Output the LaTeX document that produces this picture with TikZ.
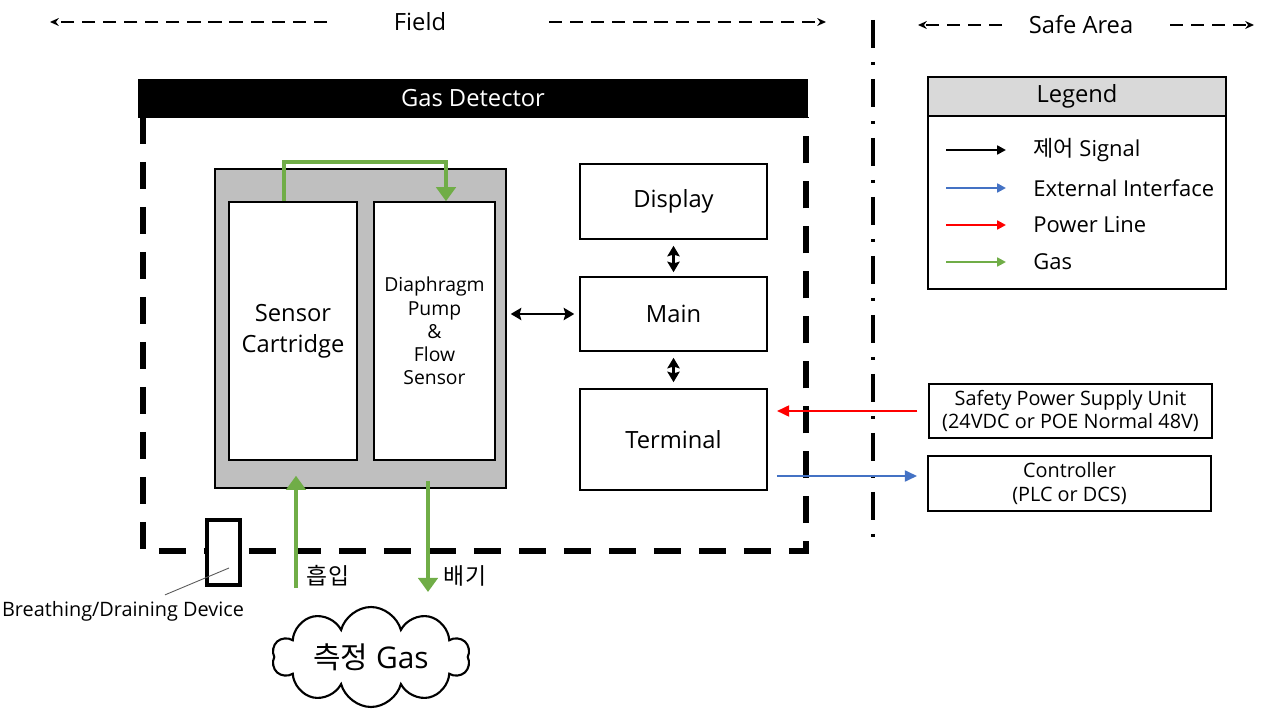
\documentclass[tikz,border=0pt]{standalone}
\usepackage{fontspec}
\setmainfont{Open Sans}
\newfontfamily\cjk{Noto Sans CJK KR}
\usetikzlibrary{arrows.meta,shapes.symbols}

\definecolor{gasgreen}{HTML}{70AD47}
\definecolor{extblue}{HTML}{4472C4}
\definecolor{pwrred}{HTML}{FF0000}
\definecolor{packgray}{HTML}{BFBFBF}
\definecolor{leggray}{HTML}{D9D9D9}

\tikzset{
  box/.style={draw,line width=0.9pt,fill=white,inner sep=0pt,align=center,
    font=\fontsize{13.5}{17.5}\selectfont},
  smallbox/.style={box,font=\fontsize{11}{13.2}\selectfont},
  zone/.style={line width=0.9pt,dash pattern=on 7.5pt off 4.5pt,-{Stealth[length=5pt,width=4.5pt]}},
  sig/.style={line width=1.3pt,{Stealth[length=6pt,width=7pt,inset=1pt]}-{Stealth[length=6pt,width=7pt,inset=1pt]}},
  gas/.style={draw=gasgreen,line width=2.8pt,-{Triangle[width=11pt,length=8pt]}},
  wire/.style={line width=1.7pt,-{Triangle[width=6pt,length=7pt]}},
  legarrow/.style={line width=1.4pt,-{Triangle[width=5pt,length=5pt]}},
  plain/.style={font=\fontsize{13.5}{17.5}\selectfont},
}

\begin{document}
\begin{tikzpicture}[x=0.02cm,y=-0.02cm]
\useasboundingbox (0,0) rectangle (1266,715);

% field / safe area
\node[plain] (field) at (420,22) {Field};
\coordinate (fl1) at (327,22); \coordinate (fl2) at (50,22);
\coordinate (fr1) at (549,22); \coordinate (fr2) at (826,22);
\draw[zone] (fl1) -- (fl2);
\draw[zone] (fr1) -- (fr2);
\node[plain] (safe) at (1081,25) {Safe Area};
\coordinate (sl1) at (1002,25); \coordinate (sl2) at (918,25);
\coordinate (sr1) at (1170,25); \coordinate (sr2) at (1254,25);
\draw[zone] (sl1) -- (sl2);
\draw[zone] (sr1) -- (sr2);
\draw[line width=2.3pt,dash pattern=on 0.56cm off 0.28cm on 0.06cm off 0.28cm] (873,20) -- (873,550);

% gas detector
\node[fill=black,text=white,minimum width=13.4cm,minimum height=0.78cm,inner sep=0pt,plain] (det) at (473,98.5) {Gas Detector};
\draw[line width=3.4pt,dash pattern=on 0.54cm off 0.36cm] (143,117) -- (143,551) -- (806,551) -- (806,117);

\node[draw,line width=0.9pt,fill=packgray,minimum width=5.82cm,minimum height=6.38cm] (pack) at (360.5,328.5) {};
\node[box,minimum width=2.56cm,minimum height=5.16cm] (sensor) at (293,331) {Sensor\\Cartridge};
\node[smallbox,minimum width=2.42cm,minimum height=5.16cm] (pump) at (434.5,331) {Diaphragm\\Pump\\\&\\Flow\\Sensor};

\node[box,minimum width=3.74cm,minimum height=1.5cm] (display) at (673.5,201.5) {Display};
\node[box,minimum width=3.74cm,minimum height=1.48cm] (main) at (673.5,314) {Main};
\node[box,minimum width=3.74cm,minimum height=2.02cm] (terminal) at (673.5,439.5) {Terminal};

\draw[sig,shorten <=0.12cm,shorten >=0.08cm] (display.south) -- (main.north);
\draw[sig,shorten <=0.12cm,shorten >=0.12cm] (main.south) -- (terminal.north);
\draw[sig,shorten <=0.08cm,shorten >=0.1cm] (pack.east |- main.west) -- (main.west);

% breathing device
\node[draw,line width=2pt,fill=white,minimum width=0.66cm,minimum height=1.3cm] (vent) at (223.5,552.5) {};
\node[font=\fontsize{11.3}{13.5}\selectfont] (ventlbl) at (123,611) {Breathing/Draining Device};
\draw[gray!70!black,line width=0.5pt] ([xshift=0.84cm]ventlbl.north) -- ([shift={(0.11cm,-0.31cm)}]vent.center);

% gas flow
\coordinate (gtop) at (446,162);
\draw[gas] ([xshift=-0.18cm]sensor.north) |- (gtop) -- (gtop |- pump.north);
\coordinate (inlet) at (296,588);
\draw[gas,shorten >=0.3cm] (inlet) -- (inlet |- sensor.south);
\coordinate (outlet) at (428,592);
\draw[gas] ([yshift=-0.4cm]outlet |- pump.south) -- (outlet);
\node[plain,font=\cjk\fontsize{13}{15}\selectfont] (intake) at (328,576) {흡입};
\node[plain,font=\cjk\fontsize{13}{15}\selectfont] (exhaust) at (465,576) {배기};

\node[cloud,draw,line width=1.2pt,cloud puffs=10,cloud ignores aspect,inner sep=0pt,
  minimum width=3.95cm,minimum height=2cm,
  font=\fontsize{17}{19}\selectfont] (sample) at (371,657) {{\cjk 측정} Gas};

% safe area units
\node[box,font=\fontsize{11.3}{13.6}\selectfont,minimum width=5.66cm,minimum height=1.08cm] (psu) at (1070.5,411)
  {Safety Power Supply Unit\\(24VDC or POE Normal 48V)};
\node[box,font=\fontsize{11.3}{13.6}\selectfont,minimum width=5.66cm,minimum height=1.1cm] (ctrl) at (1069.5,483.5)
  {Controller\\(PLC or DCS)};
\draw[wire,pwrred,shorten <=0.22cm,shorten >=0.18cm] (psu.west) -- (psu.west -| terminal.east);
\coordinate (ctrlin) at ([yshift=0.15cm]ctrl.west);
\draw[wire,extblue,shorten <=0.18cm,shorten >=0.2cm] (ctrlin -| terminal.east) -- (ctrlin);

% legend
\node[draw,line width=0.9pt,fill=leggray,minimum width=5.96cm,minimum height=0.78cm,inner sep=0pt,plain] (leghead) at (1077,96.5) {Legend};
\node[draw,line width=0.9pt,minimum width=5.96cm,minimum height=3.46cm] (legbody) at (1077,202.5) {};
\foreach \y/\col/\txt in {150/black/{{\cjk 제어} Signal},188/extblue/{External Interface},225/pwrred/{Power Line},262/gasgreen/{Gas}}{
  \node[anchor=west,inner sep=0pt,font=\fontsize{12.5}{15}\selectfont] (leg\y) at (1033,\y) {\txt};
  \coordinate (legs\y) at (946,\y);
  \draw[legarrow,\col,shorten >=0.54cm] (legs\y) -- (leg\y.west);
}
\end{tikzpicture}
\end{document}
